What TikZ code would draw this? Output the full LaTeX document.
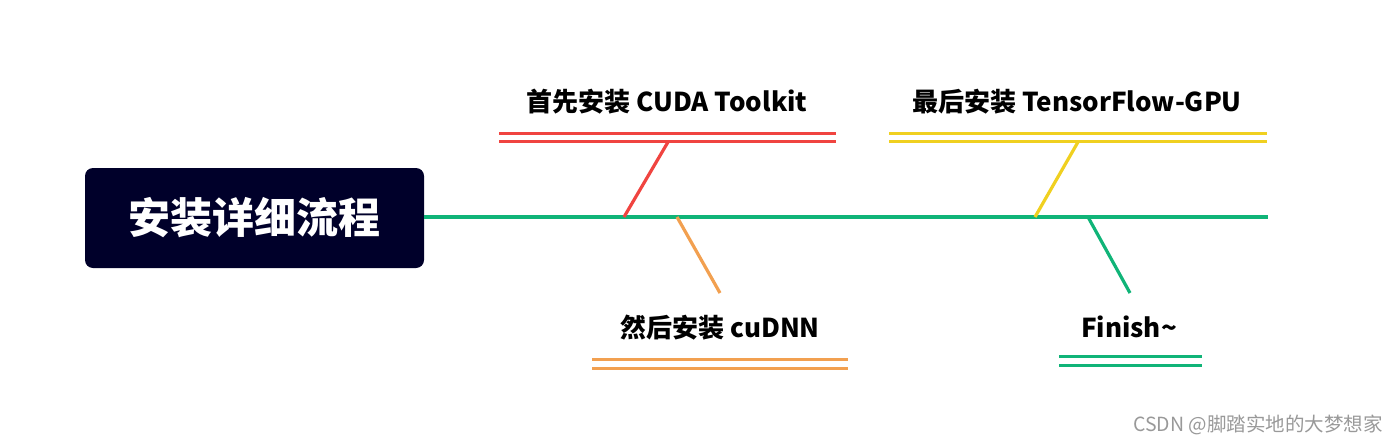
\documentclass[tikz,border=0pt]{standalone}
\usepackage{fontspec}
\setmainfont{Noto Sans CJK SC}
\usetikzlibrary{positioning}
\definecolor{navy}{HTML}{00002A}
\definecolor{fbred}{HTML}{F04440}
\definecolor{fborange}{HTML}{F2A050}
\definecolor{fbyellow}{HTML}{F0D020}
\definecolor{fbgreen}{HTML}{10B478}

\begin{document}
\begin{tikzpicture}[x=1pt, y=-1pt,
    title/.style={fill=navy, rounded corners=8pt, minimum width=339pt, minimum height=100pt, text=white, font=\bfseries\fontsize{42}{48}\selectfont},
    lbl/.style={font=\bfseries\fontsize{26}{30}\selectfont, inner sep=0pt},
    bar/.style={draw=#1, line width=3pt, double=white, double distance=5.5pt},
    arm/.style={draw=#1, line width=3.2pt}
  ]
    \useasboundingbox (0,0) rectangle (1397,444);

    \node[title] (main) at (254.5,218) {安装详细流程};
    \coordinate (spineend) at (1268,217);
    \draw[arm=fbgreen] (main.east |- spineend) -- (spineend);

    % spine points
    \coordinate (s1) at (624,217);
    \coordinate (s2) at (677,217);
    \coordinate (s3) at (1035,217);
    \coordinate (s4) at (1088,217);

    % upper bars
    \coordinate (cudaL) at (499,137.5);   \coordinate (cudaR) at (836,137.5);
    \coordinate (tfL)   at (889,137.5);   \coordinate (tfR)   at (1267,137.5);
    \coordinate (cudaB) at (668,142);
    \coordinate (tfB)   at (1078,142);
    % lower ends
    \coordinate (cudnnT) at (720,293);
    \coordinate (finT)   at (1130,293);
    \coordinate (cudnnL) at (592,364);   \coordinate (cudnnR) at (848,364);
    \coordinate (finL)   at (1059,361);  \coordinate (finR)   at (1202,361);

    \node[lbl] (cuda)  at (667,102) {首先安装 CUDA Toolkit};
    \node[lbl] (tf)    at (1077,102) {最后安装 TensorFlow-GPU};
    \node[lbl] (cudnn) at (720,328) {然后安装 cuDNN};
    \node[lbl] (fin)   at (1129,327) {Finish\textasciitilde};

    \draw[bar=fbred]    (cudaL) -- (cudaR);
    \draw[bar=fbyellow] (tfL) -- (tfR);
    \draw[bar=fborange] (cudnnL) -- (cudnnR);
    \draw[bar=fbgreen]  (finL) -- (finR);

    \draw[arm=fbred]    (s1) -- (cudaB);
    \draw[arm=fborange] (s2) -- (cudnnT);
    \draw[arm=fbyellow] (s3) -- (tfB);
    \draw[arm=fbgreen]  (s4) -- (finT);

    \node[anchor=east, text=gray!80, font=\fontsize{19.5}{22}\selectfont, inner sep=0pt] (mark) at (1383,425) {CSDN @脚踏实地的大梦想家};
  \end{tikzpicture}
\end{document}
